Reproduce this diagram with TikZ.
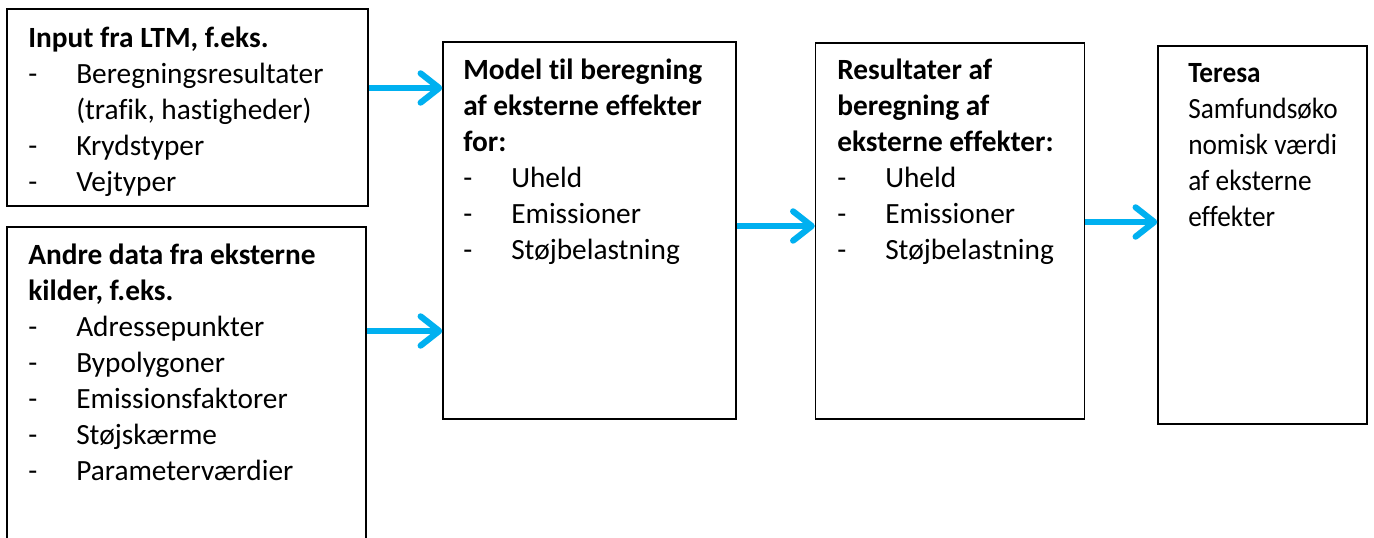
\documentclass[tikz,border=0pt]{standalone}
\usepackage{fontspec}
\setmainfont[Ligatures=NoCommon]{Carlito}
\newfontfamily\condfont[Ligatures=NoCommon,FakeStretch=0.93]{Carlito}
\usetikzlibrary{arrows.meta}
\definecolor{arrowblue}{HTML}{00B0F0}
\newcommand\itm[1]{\\\makebox[36pt][l]{-}#1}
\newcommand\cont[1]{\\\hspace*{36pt}#1}
\begin{document}
\begin{tikzpicture}[x=0.75pt,y=-0.75pt,
  box/.style={draw=black,line width=1pt,inner sep=0pt,rectangle},
  txt/.style={anchor=base west,inner sep=0pt,font=\fontsize{22}{27}\selectfont},
  flow/.style={draw=arrowblue,line width=4.6pt,
    -{Straight Barb[length=14pt,width=22pt,line cap=round,line join=round]}}]
\useasboundingbox (0,0) rectangle (1374,538);
\fill[white] (0,0) rectangle (1374,538);
% boxes
\node[box,minimum width=270.75pt,minimum height=147.75pt] (b1) at (187.5,107.5) {};
\node[box,minimum width=269.25pt,minimum height=249.75pt] (b2) at (186.5,393.5) {};
\node[box,minimum width=219.75pt,minimum height=282.75pt] (b3) at (589.5,230.5) {};
\node[box,minimum width=201.75pt,minimum height=282pt] (b4) at (950,231) {};
\node[box,minimum width=156.75pt,minimum height=283.5pt] (b5) at (1262.5,235) {};
% texts
\node[txt] (t1) at (28,48) {\parbox[t]{260pt}{\raggedright\textbf{Input fra LTM, f.eks.}%
  \itm{Beregningsresultater}\cont{(trafik, hastigheder)}\itm{Krydstyper}\itm{Vejtyper}}};
\node[txt] (t2) at (28,265) {\parbox[t]{260pt}{\raggedright\textbf{Andre data fra eksterne}\\\textbf{kilder, f.eks.}%
  \itm{Adressepunkter}\itm{Bypolygoner}\itm{Emissionsfaktorer}\itm{Støjskærme}\itm{Parameterværdier}}};
\node[txt] (t3) at (463,80) {\parbox[t]{215pt}{\raggedright\textbf{Model til beregning}\\\textbf{af eksterne effekter}\\\textbf{for:}%
  \itm{Uheld}\itm{Emissioner}\itm{Støjbelastning}}};
\node[txt] (t4) at (837,80) {\parbox[t]{195pt}{\raggedright\textbf{Resultater af}\\\textbf{beregning af}\\\textbf{eksterne effekter:}%
  \itm{Uheld}\itm{Emissioner}\itm{Støjbelastning}}};
\node[txt,font=\condfont\fontsize{22}{27}\selectfont] (t5) at (1188,83) {\parbox[t]{150pt}{\raggedright\textbf{Teresa}\\Samfundsøko\\nomisk værdi\\af eksterne\\effekter}};
% arrows
\draw[flow] (b1.east |- 0,88) -- (b3.west |- 0,88);
\draw[flow] (b2.east |- 0,331) -- (b3.west |- 0,331);
\draw[flow] (b3.east |- 0,226) -- (b4.west |- 0,226);
\draw[flow] (b4.east |- 0,222) -- (b5.west |- 0,222);
\end{tikzpicture}
\end{document}
